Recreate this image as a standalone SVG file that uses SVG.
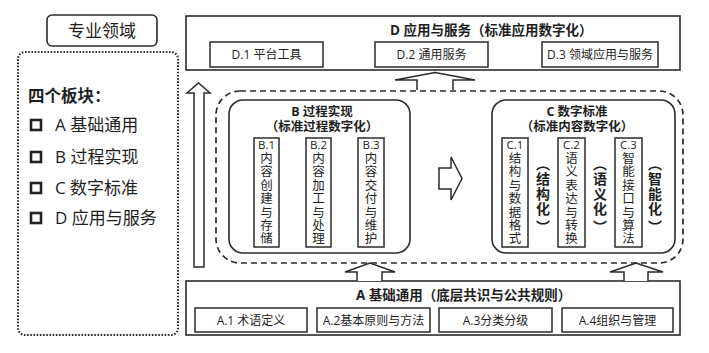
<svg xmlns="http://www.w3.org/2000/svg" width="709" height="353" viewBox="0 0 709 353">
<style>
text{font-family:"Open Sans","Noto Sans CJK SC",sans-serif;fill:#1e1e1e}
.box{fill:#fff;stroke:#2b2b2b;stroke-width:1.6}
.sub{fill:#fff;stroke:#2b2b2b;stroke-width:1.5}
.arr{fill:#fff;stroke:#2b2b2b;stroke-width:1.5;stroke-linejoin:miter}
.t13b{font-size:13.5px;font-weight:bold}
.t12{font-size:12px}
.t12b{font-size:12.5px;font-weight:bold}
.vt{font-size:12.5px}
.vb{font-size:14px;font-weight:bold}
.lt{font-size:17px}
.chk{fill:#fff;stroke:#222;stroke-width:2.6}
</style>
<rect width="709" height="353" fill="#fff"/>

<g id="domain-label">
<rect x="47" y="15" width="110" height="31" rx="5" class="box"/>
<text x="102" y="37" text-anchor="middle" style="font-size:17px">专业领域</text>
</g>

<g id="legend">
<rect x="18" y="52" width="160" height="283" rx="7" fill="none" stroke="#2b2b2b" stroke-width="2" stroke-dasharray="1.6 1.6"/>
<text x="28" y="102" style="font-size:16.5px;font-weight:bold">四个板块：</text>
<rect x="31" y="120" width="10" height="10" class="chk"/>
<text x="55" y="131" class="lt">A 基础通用</text>
<rect x="31" y="152" width="10" height="10" class="chk"/>
<text x="55" y="163" class="lt">B 过程实现</text>
<rect x="31" y="183" width="10" height="10" class="chk"/>
<text x="55" y="194" class="lt">C 数字标准</text>
<rect x="31" y="213" width="10" height="10" class="chk"/>
<text x="55" y="224" class="lt">D 应用与服务</text>
</g>

<g id="D">
<rect x="186" y="16" width="494" height="54" class="box"/>
<text x="390" y="35" class="t13b">D 应用与服务（标准应用数字化）</text>
<rect x="210" y="42" width="113" height="25" class="sub"/>
<text x="266.5" y="59" text-anchor="middle" class="t12">D.1 平台工具</text>
<rect x="375" y="42" width="113" height="25" class="sub"/>
<text x="431.5" y="59" text-anchor="middle" class="t12">D.2 通用服务</text>
<rect x="542" y="42" width="116" height="25" class="sub"/>
<text x="600" y="59" text-anchor="middle" class="t12">D.3 领域应用与服务</text>
</g>

<g id="A">
<rect x="186" y="281" width="494" height="54" class="box"/>
<text x="356" y="300" class="t13b">A 基础通用（底层共识与公共规则）</text>
<rect x="195" y="308" width="112" height="24" class="sub"/>
<text x="251" y="325" text-anchor="middle" class="t12">A.1 术语定义</text>
<rect x="317" y="308" width="113" height="24" class="sub"/>
<text x="373.5" y="325" text-anchor="middle" class="t12">A.2基本原则与方法</text>
<rect x="439" y="308" width="113" height="24" class="sub"/>
<text x="495.5" y="325" text-anchor="middle" class="t12">A.3分类分级</text>
<rect x="562" y="308" width="111" height="24" class="sub"/>
<text x="617.5" y="325" text-anchor="middle" class="t12">A.4组织与管理</text>
</g>

<g id="core">
<rect x="216" y="91" width="467" height="172" rx="24" fill="none" stroke="#2b2b2b" stroke-width="1.7" stroke-dasharray="6 4"/>
</g>

<g id="B">
<rect x="229" y="100" width="181" height="153" rx="14" class="box"/>
<text x="322" y="116" text-anchor="middle" class="t12b">B 过程实现</text>
<text x="322" y="131" text-anchor="middle" class="t12b">（标准过程数字化）</text>
<rect x="254" y="138" width="25" height="109" class="sub"/>
<text text-anchor="middle" class="vt"><tspan x="266.5" y="149" style="font-size:11.5px">B.1</tspan><tspan x="266.5" y="163">内</tspan><tspan x="266.5" dy="13.4">容</tspan><tspan x="266.5" dy="13.4">创</tspan><tspan x="266.5" dy="13.4">建</tspan><tspan x="266.5" dy="13.4">与</tspan><tspan x="266.5" dy="13.4">存</tspan><tspan x="266.5" dy="13.4">储</tspan></text>
<rect x="306" y="138" width="25" height="109" class="sub"/>
<text text-anchor="middle" class="vt"><tspan x="318.5" y="149" style="font-size:11.5px">B.2</tspan><tspan x="318.5" y="163">内</tspan><tspan x="318.5" dy="13.4">容</tspan><tspan x="318.5" dy="13.4">加</tspan><tspan x="318.5" dy="13.4">工</tspan><tspan x="318.5" dy="13.4">与</tspan><tspan x="318.5" dy="13.4">处</tspan><tspan x="318.5" dy="13.4">理</tspan></text>
<rect x="358" y="138" width="26" height="109" class="sub"/>
<text text-anchor="middle" class="vt"><tspan x="371" y="149" style="font-size:11.5px">B.3</tspan><tspan x="371" y="163">内</tspan><tspan x="371" dy="13.4">容</tspan><tspan x="371" dy="13.4">交</tspan><tspan x="371" dy="13.4">付</tspan><tspan x="371" dy="13.4">与</tspan><tspan x="371" dy="13.4">维</tspan><tspan x="371" dy="13.4">护</tspan></text>
</g>

<g id="C">
<rect x="492" y="100" width="183" height="153" rx="14" class="box"/>
<text x="577" y="116" text-anchor="middle" class="t12b">C 数字标准</text>
<text x="577" y="131" text-anchor="middle" class="t12b">（标准内容数字化）</text>
<rect x="502" y="138" width="26" height="109" class="sub"/>
<text text-anchor="middle" class="vt"><tspan x="515" y="149" style="font-size:11.5px">C.1</tspan><tspan x="515" y="163">结</tspan><tspan x="515" dy="13.4">构</tspan><tspan x="515" dy="13.4">与</tspan><tspan x="515" dy="13.4">数</tspan><tspan x="515" dy="13.4">据</tspan><tspan x="515" dy="13.4">格</tspan><tspan x="515" dy="13.4">式</tspan></text>
<text text-anchor="middle" class="vb"><tspan x="543" y="169">︵</tspan><tspan x="543" y="184">结</tspan><tspan x="543" dy="15">构</tspan><tspan x="543" dy="15">化</tspan><tspan x="543" y="232">︶</tspan></text>
<rect x="558" y="138" width="27" height="109" class="sub"/>
<text text-anchor="middle" class="vt"><tspan x="571.5" y="149" style="font-size:11.5px">C.2</tspan><tspan x="571.5" y="163">语</tspan><tspan x="571.5" dy="13.4">义</tspan><tspan x="571.5" dy="13.4">表</tspan><tspan x="571.5" dy="13.4">达</tspan><tspan x="571.5" dy="13.4">与</tspan><tspan x="571.5" dy="13.4">转</tspan><tspan x="571.5" dy="13.4">换</tspan></text>
<text text-anchor="middle" class="vb"><tspan x="600" y="169">︵</tspan><tspan x="600" y="184">语</tspan><tspan x="600" dy="15">义</tspan><tspan x="600" dy="15">化</tspan><tspan x="600" y="232">︶</tspan></text>
<rect x="615" y="138" width="27" height="109" class="sub"/>
<text text-anchor="middle" class="vt"><tspan x="628.5" y="149" style="font-size:11.5px">C.3</tspan><tspan x="628.5" y="163">智</tspan><tspan x="628.5" dy="13.4">能</tspan><tspan x="628.5" dy="13.4">接</tspan><tspan x="628.5" dy="13.4">口</tspan><tspan x="628.5" dy="13.4">与</tspan><tspan x="628.5" dy="13.4">算</tspan><tspan x="628.5" dy="13.4">法</tspan></text>
<text text-anchor="middle" class="vb"><tspan x="655" y="169">︵</tspan><tspan x="655" y="184">智</tspan><tspan x="655" dy="15">能</tspan><tspan x="655" dy="15">化</tspan><tspan x="655" y="232">︶</tspan></text>
</g>

<g id="connectors">
<path class="arr" d="M194,267 V93 H187 L198.5,83 L210,93 H204 V267 Z"/>
<path class="arr" d="M417,90 V80 H395 L435,72.5 L475,80 H453 V90"/>
<path class="arr" d="M439,168 H451 V157 L462,178.5 L451,200 V189 H439 Z"/>
<path class="arr" d="M357,281 V272 H345 L370,263 L395,272 H382 V281"/>
<path class="arr" d="M624,281 V272 H610 L636,263 L663,272 H648 V281"/>
</g>
</svg>
